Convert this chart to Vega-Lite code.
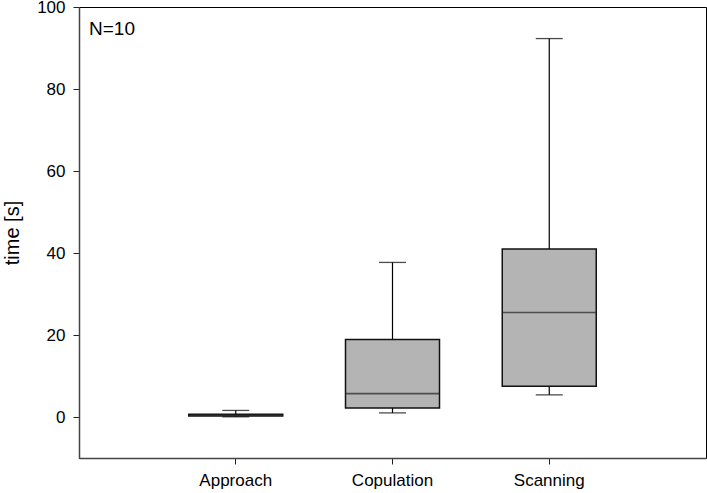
{
  "$schema": "https://vega.github.io/schema/vega-lite/v6.json",
  "width": 627,
  "height": 451,
  "autosize": {"type": "none"},
  "padding": {"left": 79, "top": 7, "right": 1, "bottom": 35},
  "background": "white",
  "title": {"text": "N=10", "anchor": "start", "frame": "group", "orient": "top", "offset": -41, "dx": 10, "fontSize": 19, "fontWeight": "normal", "font": "Liberation Sans", "color": "#000"},
  "config": {
    "view": {"stroke": "#000", "strokeWidth": 1},
    "font": "Liberation Sans",
    "axis": {"labelFont": "Liberation Sans", "titleFont": "Liberation Sans", "labelColor": "#000", "titleColor": "#000", "grid": false, "domainColor": "#444", "domainWidth": 1.5, "tickColor": "#222", "tickSize": 6, "labelFontSize": 17, "titleFontSize": 20, "titleFontWeight": "normal"}
  },
  "data": {"values": [
    {"cat": "Approach", "min": 0.05, "q1": 0.25, "median": 0.45, "q3": 0.7, "max": 1.6},
    {"cat": "Copulation", "min": 1.0, "q1": 2.2, "median": 5.7, "q3": 18.9, "max": 37.7},
    {"cat": "Scanning", "min": 5.4, "q1": 7.5, "median": 25.5, "q3": 41.0, "max": 92.3}
  ]},
  "encoding": {
    "x": {"field": "cat", "type": "nominal", "sort": ["Approach", "Copulation", "Scanning"],
      "scale": {"paddingInner": 0, "paddingOuter": 0.5},
      "axis": {"title": null, "labelAngle": 0, "labelPadding": 8, "domain": true}}
  },
  "layer": [
    {"mark": {"type": "rule", "color": "#000", "strokeWidth": 1.2},
     "encoding": {"y": {"field": "min", "type": "quantitative", "scale": {"domain": [-10, 100], "nice": false, "zero": false},
        "axis": {"title": "time [s]", "values": [0, 20, 40, 60, 80, 100], "labelPadding": 8, "titlePadding": 14}},
       "y2": {"field": "max"}}},
    {"mark": {"type": "tick", "color": "#000", "size": 27, "thickness": 1.3},
     "encoding": {"y": {"field": "max", "type": "quantitative"}}},
    {"mark": {"type": "tick", "color": "#000", "size": 27, "thickness": 1.3},
     "encoding": {"y": {"field": "min", "type": "quantitative"}}},
    {"mark": {"type": "bar", "size": 94, "fill": "#b4b4b4", "stroke": "#111", "strokeWidth": 1.5},
     "encoding": {"y": {"field": "q1", "type": "quantitative"}, "y2": {"field": "q3"}}},
    {"mark": {"type": "tick", "color": "#222", "size": 94, "thickness": 1.6},
     "encoding": {"y": {"field": "median", "type": "quantitative"}}}
  ]
}
